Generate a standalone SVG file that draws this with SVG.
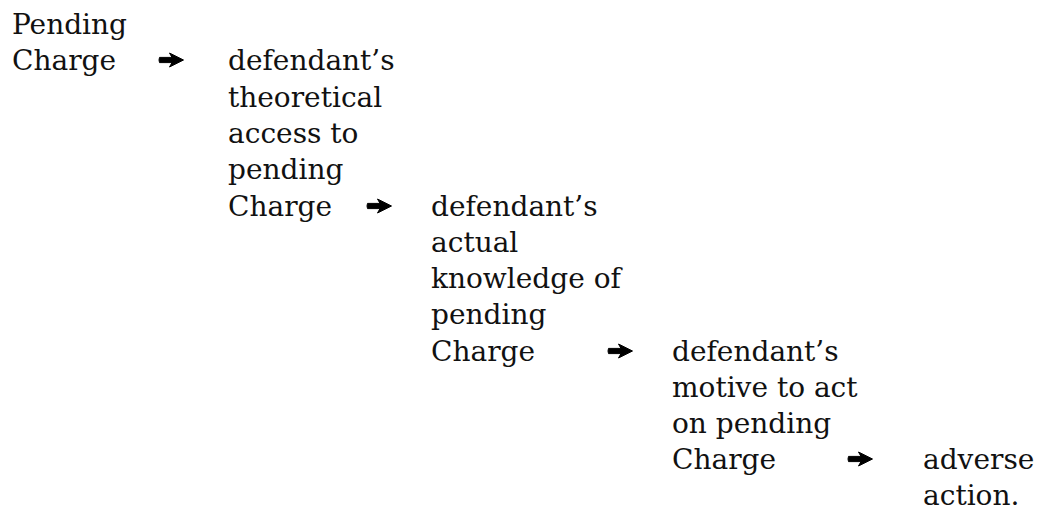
<svg xmlns="http://www.w3.org/2000/svg" width="1040" height="512" viewBox="0 0 1040 512">
<style>
.t{font-family:"DejaVu Serif","Liberation Serif",serif;font-size:28px;fill:#111}
.arw{fill:#000;stroke:#000;stroke-width:1;stroke-linejoin:round}
</style>
<defs>
<path id="arrow" class="arw" d="M0.5,-2.6 L13,-2.6 L10.5,-7 L24.5,0 L10.5,7 L13,2.6 L0.5,2.6 Q-0.5,0 0.5,-2.6 Z"/>
</defs>
<rect width="1040" height="512" fill="#fff"/>
<g id="n0"><text class="t"><tspan x="12" y="34">Pending</tspan><tspan x="12" y="70">Charge</tspan></text></g>
<g id="n1"><text class="t"><tspan x="228" y="70">defendant’s</tspan><tspan x="228" y="107">theoretical</tspan><tspan x="228" y="143">access to</tspan><tspan x="228" y="179">pending</tspan><tspan x="228" y="216">Charge</tspan></text></g>
<g id="n2"><text class="t"><tspan x="431" y="216">defendant’s</tspan><tspan x="431" y="252">actual</tspan><tspan x="431" y="288">knowledge of</tspan><tspan x="431" y="324">pending</tspan><tspan x="431" y="361">Charge</tspan></text></g>
<g id="n3"><text class="t"><tspan x="672" y="361">defendant’s</tspan><tspan x="672" y="397">motive to act</tspan><tspan x="672" y="433">on pending</tspan><tspan x="672" y="469">Charge</tspan></text></g>
<g id="n4"><text class="t"><tspan x="923" y="469">adverse</tspan><tspan x="923" y="505">action.</tspan></text></g>
<g id="connectors">
<use href="#arrow" x="159" y="60"/>
<use href="#arrow" x="367" y="206"/>
<use href="#arrow" x="608" y="351"/>
<use href="#arrow" x="848" y="459"/>
</g>
</svg>
